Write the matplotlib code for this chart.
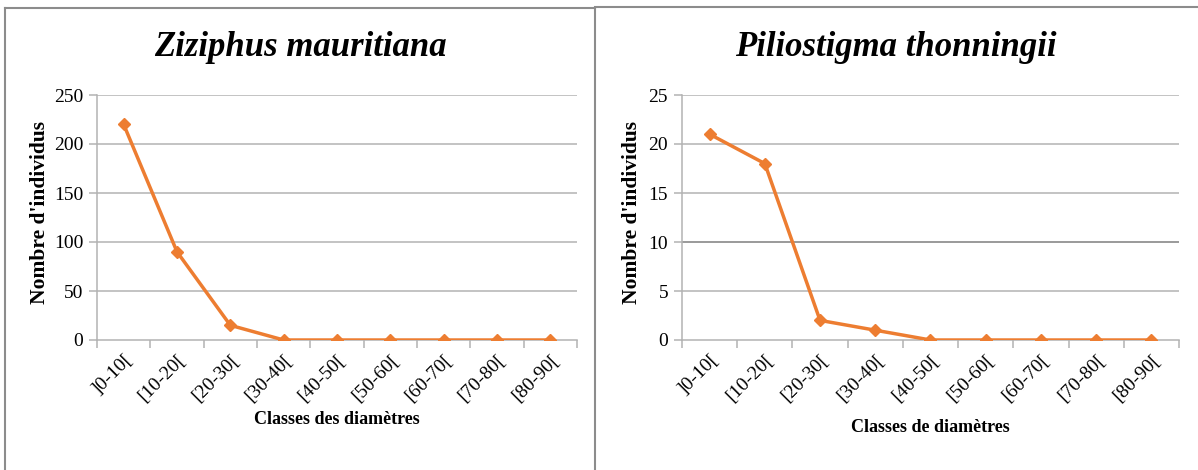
import matplotlib
matplotlib.use("Agg")
import matplotlib.pyplot as plt
from matplotlib.lines import Line2D
from matplotlib.transforms import ScaledTranslation

plt.rcParams['font.family'] = ['Liberation Serif', 'DejaVu Serif']

categories = [']0-10[', '[10-20[', '[20-30[', '[30-40[', '[40-50[',
              '[50-60[', '[60-70[', '[70-80[', '[80-90[']
ziziphus = [220, 90, 15, 0, 0, 0, 0, 0, 0]
piliostigma = [21, 18, 2, 1, 0, 0, 0, 0, 0]

titles = ['Ziziphus mauritiana', 'Piliostigma thonningii']
xlabels = ['Classes des diamètres', 'Classes de diamètres']
ylabel = "Nombre d'individus"
yticks_list = [[0, 50, 100, 150, 200, 250], [0, 5, 10, 15, 20, 25]]
series = [ziziphus, piliostigma]

W, H = 1198, 470
fig = plt.figure(figsize=(W / 100, H / 100), dpi=100)

def fx(px):
    return px / W

def fy(py):
    return 1 - py / H

# panel borders
border = '#8c8c8c'
for (x0, y0, x1, y1) in [(5, 470, 5, 8), (5, 8, 595, 8), (595, 8, 595, 470),
                         (595, 7, 1198, 7)]:
    fig.add_artist(Line2D([fx(x0), fx(x1)], [fy(y0), fy(y1)],
                          color=border, lw=1.5, transform=fig.transFigure))

axes_px = [(97, 577), (682, 1179)]
panel_centers = [300, 896]
ylabel_x = [40, 632]
xlabel_y = [420, 428]
orange = '#ED7D31'
grid_c = '#b3b3b3'

for i in range(2):
    xl, xr = axes_px[i]
    ax = fig.add_axes([fx(xl), fy(340), fx(xr - xl), (340 - 95) / H])
    x = list(range(len(categories)))
    ax.plot(x, series[i], color=orange, lw=2.5, marker='D', ms=6.5,
            markeredgecolor=orange, markerfacecolor=orange, zorder=5)
    yt = yticks_list[i]
    ax.set_ylim(yt[0], yt[-1])
    ax.set_xlim(-0.5, len(categories) - 0.5)
    ax.set_yticks(yt)
    ax.set_yticklabels([str(v) for v in yt], fontsize=14)
    for v in yt[1:]:
        c = grid_c
        if i == 1 and v == 10:
            c = '#7f7f7f'
        ax.axhline(v, color=c, lw=1.1, zorder=0)
    ax.set_xticks([k - 0.5 for k in range(len(categories) + 1)])
    ax.set_xticklabels([])
    ax.set_xticks(x, minor=True)
    ax.set_xticklabels(categories, minor=True, rotation=45, ha='right',
                       rotation_mode='anchor', fontsize=14)
    shift = ScaledTranslation(6 / 100, 0, fig.dpi_scale_trans)
    for lab in ax.get_xticklabels(minor=True):
        lab.set_transform(lab.get_transform() + shift)
    ax.tick_params(axis='x', which='minor', length=0, pad=8)
    ax.tick_params(axis='x', which='major', length=6, color=grid_c, width=1.1)
    ax.tick_params(axis='y', length=6, color=grid_c, width=1.1, pad=4)
    for s in ['top', 'right']:
        ax.spines[s].set_visible(False)
    for s in ['left', 'bottom']:
        ax.spines[s].set_color(grid_c)
        ax.spines[s].set_linewidth(1.1)
    ax.set_facecolor('none')

    fig.text(fx(panel_centers[i]), fy(48), titles[i], fontsize=25,
             fontweight='bold', fontstyle='italic', ha='center', va='center')
    fig.text(fx((xl + xr) / 2), fy(xlabel_y[i]), xlabels[i], fontsize=13,
             fontweight='bold', ha='center', va='center')
    fig.text(fx(ylabel_x[i]), fy(212), ylabel, fontsize=15.5,
             fontweight='bold', ha='center', va='center', rotation=90)

fig.savefig('out.png', dpi=100)
